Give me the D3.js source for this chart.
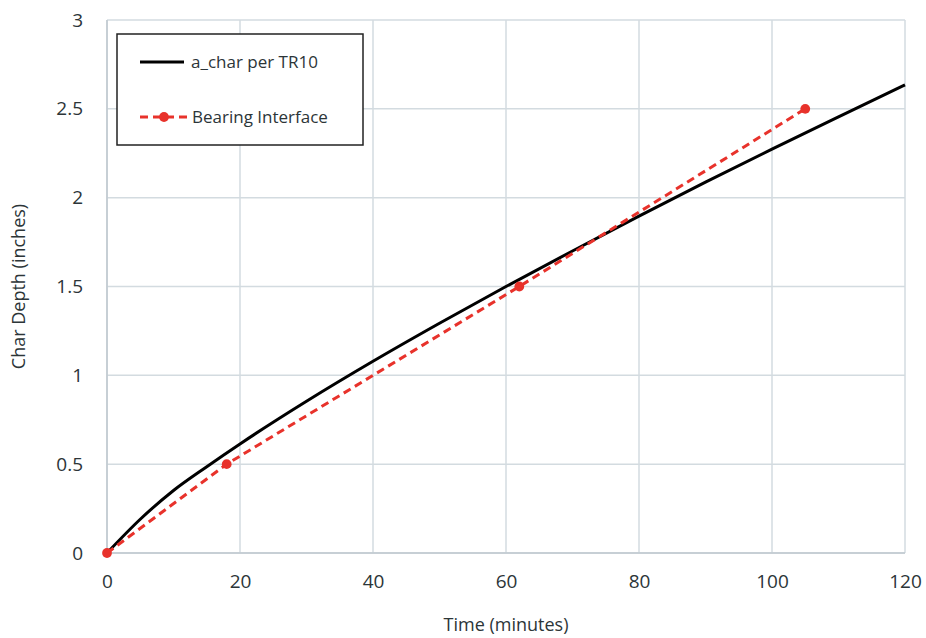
<!DOCTYPE html>
<html>
<head>
<meta charset="utf-8">
<script src="https://cdn.jsdelivr.net/npm/d3@7"></script>
<style>
  body { margin: 0; background: #fff; }
  text { font-family: "Open Sans", "Noto Sans", sans-serif; fill: #2c3538; }
</style>
</head>
<body>
<svg width="926" height="638"></svg>
<script>
var margin = {left:107,right:21,top:20,bottom:85};
var width = 926, height = 638;

// a_char per TR10
var tr10Time  = [0, 5, 10, 15, 20, 30, 40, 50, 60, 70, 80, 90, 100, 110, 120];
var tr10Depth = [0, 0.19, 0.352, 0.486, 0.614, 0.854, 1.079, 1.293, 1.50, 1.70, 1.896, 2.087, 2.273, 2.455, 2.635];

// Bearing Interface
var bearTime  = [0, 18, 62, 105];
var bearDepth = [0, 0.5, 1.5, 2.5];

var xTicks = [0, 20, 40, 60, 80, 100, 120];
var yTicks = [0, 0.5, 1, 1.5, 2, 2.5, 3];

var svg = d3.select("svg");

var x = d3.scaleLinear().domain([0,120]).range([margin.left, width - margin.right]);
var y = d3.scaleLinear().domain([0,3]).range([height - margin.bottom, margin.top]);

// grid
svg.append("g").selectAll("line").data(xTicks).enter().append("line")
  .attr("x1", function(d){ return x(d); }).attr("x2", function(d){ return x(d); })
  .attr("y1", y(0)).attr("y2", y(3))
  .attr("stroke", "#d3dbe0").attr("stroke-width", 1.5);
svg.append("g").selectAll("line").data(yTicks).enter().append("line")
  .attr("x1", x(0)).attr("x2", x(120))
  .attr("y1", function(d){ return y(d); }).attr("y2", function(d){ return y(d); })
  .attr("stroke", "#d3dbe0").attr("stroke-width", 1.5);

// axes lines
svg.append("line").attr("x1", x(0)).attr("x2", x(0)).attr("y1", y(0)).attr("y2", y(3))
  .attr("stroke", "#bfc9cf").attr("stroke-width", 1.5);
svg.append("line").attr("x1", x(0)).attr("x2", x(120)).attr("y1", y(0)).attr("y2", y(0))
  .attr("stroke", "#bfc9cf").attr("stroke-width", 1.5);

// tick labels
var xAxis = d3.axisBottom(x).tickValues(xTicks).tickSize(0).tickPadding(22).tickFormat(d3.format("d"));
var gx = svg.append("g").attr("transform", "translate(0," + y(0) + ")").call(xAxis);
gx.select(".domain").remove();
gx.selectAll("text").style("font-size", "19px").attr("fill", "#2c3538");

var yAxis = d3.axisLeft(y).tickValues(yTicks).tickSize(0).tickPadding(24).tickFormat(function(d){ return String(d); });
var gy = svg.append("g").attr("transform", "translate(" + x(0) + ",0)").call(yAxis);
gy.select(".domain").remove();
gy.selectAll("text").style("font-size", "19px").attr("fill", "#2c3538");

// axis titles
svg.append("text").attr("x", (x(0) + x(120)) / 2).attr("y", 631)
  .attr("text-anchor", "middle").style("font-size", "18px").text("Time (minutes)");
svg.append("text").attr("transform", "translate(25," + y(1.5) + ") rotate(-90)")
  .attr("text-anchor", "middle").style("font-size", "18px").text("Char Depth (inches)");

// lines
var tr10 = d3.zip(tr10Time, tr10Depth);
var bear = d3.zip(bearTime, bearDepth);

svg.append("path").datum(tr10)
  .attr("d", d3.line().x(function(d){ return x(d[0]); }).y(function(d){ return y(d[1]); }).curve(d3.curveMonotoneX))
  .attr("fill", "none").attr("stroke", "#000").attr("stroke-width", 3);

svg.append("path").datum(bear)
  .attr("d", d3.line().x(function(d){ return x(d[0]); }).y(function(d){ return y(d[1]); }))
  .attr("fill", "none").attr("stroke", "#e8322b").attr("stroke-width", 3)
  .attr("stroke-dasharray", "8,5");

svg.append("g").selectAll("path").data(bear).enter().append("path")
  .attr("transform", function(d){ return "translate(" + x(d[0]) + "," + y(d[1]) + ")"; })
  .attr("d", d3.symbol().type(d3.symbolCircle).size(75))
  .attr("fill", "#e8322b");

// legend
var lg = svg.append("g");
lg.append("rect").attr("x", 117).attr("y", 34).attr("width", 246).attr("height", 111)
  .attr("fill", "#fff").attr("stroke", "#222").attr("stroke-width", 1.5);
lg.append("line").attr("x1", 140).attr("x2", 184).attr("y1", 62).attr("y2", 62)
  .attr("stroke", "#000").attr("stroke-width", 3);
lg.append("text").attr("x", 191).attr("y", 68).style("font-size", "17px").text("a_char per TR10");
lg.append("line").attr("x1", 140).attr("x2", 189).attr("y1", 117).attr("y2", 117)
  .attr("stroke", "#e8322b").attr("stroke-width", 3).attr("stroke-dasharray", "8,5");
lg.append("path").attr("transform", "translate(164,117)")
  .attr("d", d3.symbol().type(d3.symbolCircle).size(75)).attr("fill", "#e8322b");
lg.append("text").attr("x", 192).attr("y", 123).style("font-size", "17px").text("Bearing Interface");
</script>
</body>
</html>
